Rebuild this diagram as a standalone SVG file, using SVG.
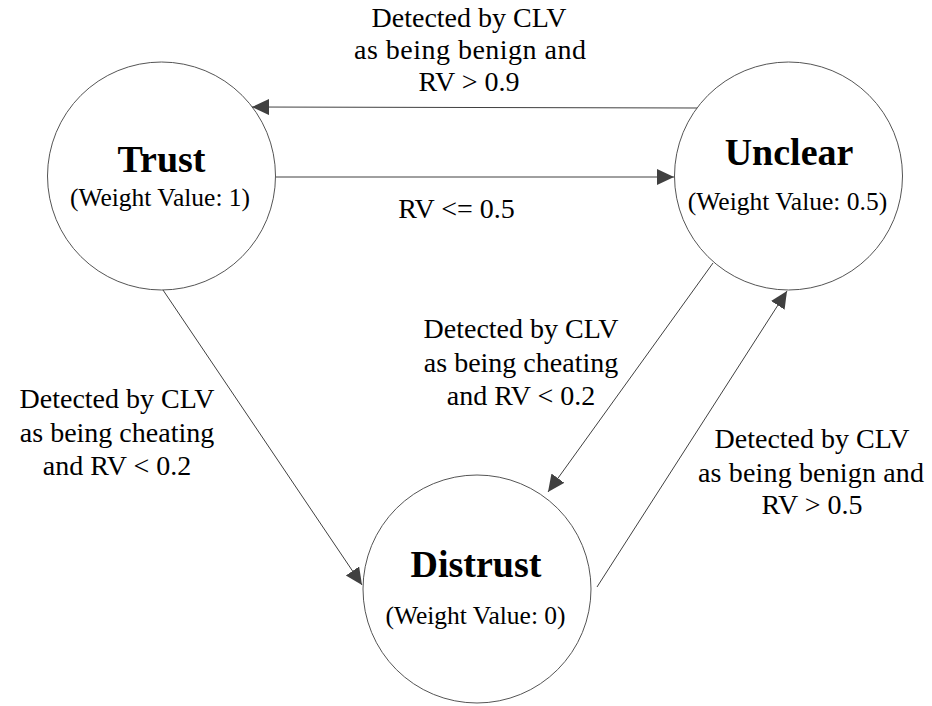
<svg xmlns="http://www.w3.org/2000/svg" width="932" height="706" viewBox="0 0 932 706">
  <style>
    .state { fill: #ffffff; stroke: #555555; stroke-width: 1; }
    .title { font-family: "Liberation Serif", "Times New Roman", serif; font-weight: bold; font-size: 38px; fill: #000000; text-anchor: middle; }
    .weight { font-family: "Liberation Serif", "Times New Roman", serif; font-size: 25.5px; fill: #000000; text-anchor: middle; }
    .label { font-family: "Liberation Serif", "Times New Roman", serif; font-size: 28px; fill: #000000; text-anchor: middle; }
    .edge { fill: none; stroke: #404040; stroke-width: 1; marker-end: url(#arrow); }
  </style>
  <defs>
    <marker id="arrow" markerUnits="userSpaceOnUse" markerWidth="18" markerHeight="17" refX="17" refY="8" orient="auto">
      <path d="M0,0 L17,8 L0,16 Z" fill="#404040"/>
    </marker>
  </defs>
  <rect width="932" height="706" fill="#ffffff"/>

  <!-- states -->
  <g id="trust">
    <circle class="state" cx="161.5" cy="176" r="114"/>
    <text class="title" x="161.5" y="172">Trust</text>
    <text class="weight" x="160" y="206">(Weight Value: 1)</text>
  </g>
  <g id="unclear">
    <circle class="state" cx="788.5" cy="176" r="114"/>
    <text class="title" x="789" y="165">Unclear</text>
    <text class="weight" x="787.5" y="210">(Weight Value: 0.5)</text>
  </g>
  <g id="distrust">
    <circle class="state" cx="477" cy="589" r="114"/>
    <text class="title" x="476" y="577">Distrust</text>
    <text class="weight" x="475.5" y="624">(Weight Value: 0)</text>
  </g>

  <!-- transitions -->
  <g id="connectors">
    <path class="edge" d="M697,108 L252,107"/>
    <path class="edge" d="M276,177 L674,177"/>
    <path class="edge" d="M163,290 L362,585"/>
    <path class="edge" d="M713,263 L548,492"/>
    <path class="edge" d="M597,587 L787,291"/>
  </g>

  <!-- transition labels -->
  <g id="labels">
    <text class="label" x="469" y="26.5">Detected by CLV</text>
    <text class="label" x="470" y="58.5" textLength="232" lengthAdjust="spacing">as being benign and</text>
    <text class="label" x="469" y="91">RV &gt; 0.9</text>

    <text class="label" x="456.5" y="218">RV &lt;= 0.5</text>

    <text class="label" x="521" y="338">Detected by CLV</text>
    <text class="label" x="521" y="371.5">as being cheating</text>
    <text class="label" x="521" y="405">and RV &lt; 0.2</text>

    <text class="label" x="117" y="408">Detected by CLV</text>
    <text class="label" x="117" y="442">as being cheating</text>
    <text class="label" x="117" y="475">and RV &lt; 0.2</text>

    <text class="label" x="812" y="448">Detected by CLV</text>
    <text class="label" x="811" y="482" textLength="226" lengthAdjust="spacing">as being benign and</text>
    <text class="label" x="812" y="514">RV &gt; 0.5</text>
  </g>
</svg>
